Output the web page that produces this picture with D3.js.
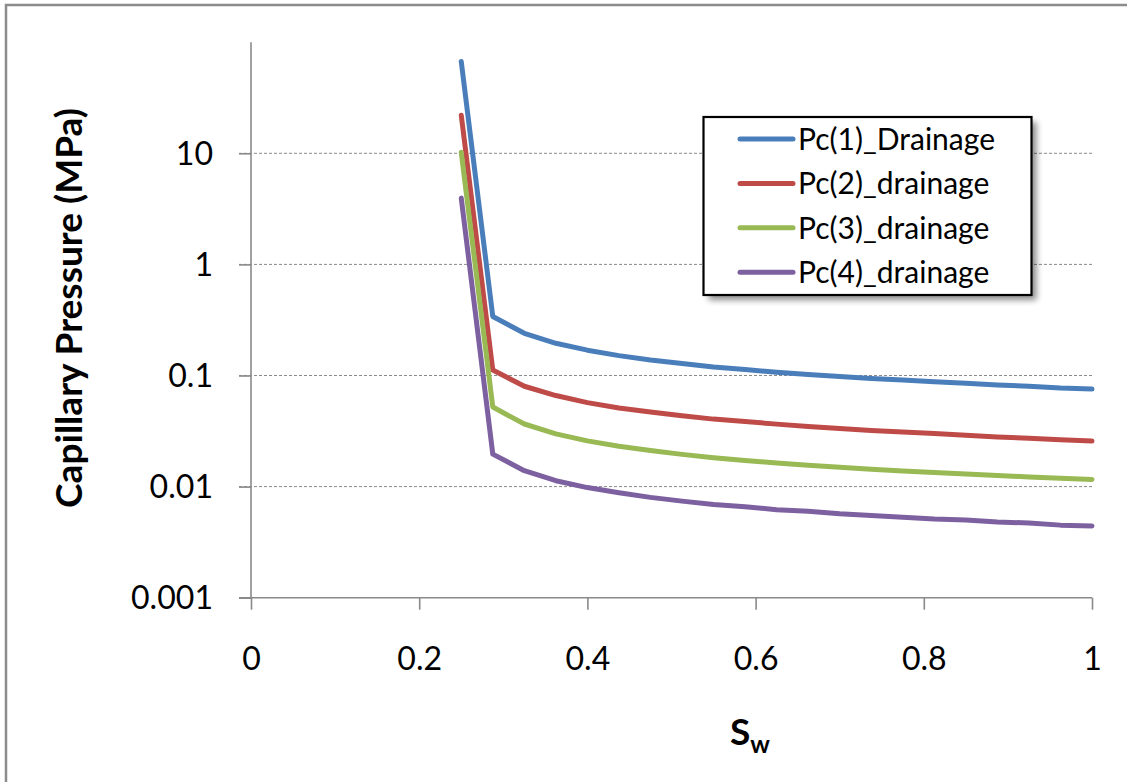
<!DOCTYPE html>
<html>
<head>
<meta charset="utf-8">
<script src="https://cdn.jsdelivr.net/npm/d3@7"></script>
<style>
  html, body { margin: 0; padding: 0; background: #fff; }
  svg { display: block; }
  text { font-family: Lato, "Open Sans", sans-serif; fill: #000; }
</style>
</head>
<body>
<svg id="chart" width="1127" height="782"></svg>
<script>
// ---- data ----
const sw = [0.25, 0.2875, 0.325, 0.3625, 0.4, 0.4375, 0.475, 0.5125, 0.55, 0.5875, 0.625,
            0.6625, 0.7, 0.7375, 0.775, 0.8125, 0.85, 0.8875, 0.925, 0.9625, 1.0];
const pc1 = [67, 0.34, 0.24, 0.195, 0.169, 0.151, 0.138, 0.128, 0.119, 0.113, 0.107,
             0.102, 0.098, 0.094, 0.091, 0.088, 0.085, 0.082, 0.080, 0.077, 0.0755];
const pc2 = [22, 0.112, 0.080, 0.066, 0.057, 0.051, 0.047, 0.0435, 0.0405, 0.0385, 0.0365,
             0.0348, 0.0333, 0.032, 0.031, 0.030, 0.029, 0.028, 0.0272, 0.0264, 0.0257];
const pc3 = [10.2, 0.052, 0.0366, 0.0298, 0.0258, 0.0231, 0.0211, 0.0195, 0.0182, 0.0172, 0.0163,
             0.0156, 0.0149, 0.0143, 0.0138, 0.0134, 0.0130, 0.0126, 0.0122, 0.0119, 0.0116];
const pc4 = [3.95, 0.0196, 0.0139, 0.0113, 0.0098, 0.0088, 0.0080, 0.0074, 0.0069, 0.0066, 0.0062,
             0.0060, 0.0057, 0.0055, 0.0053, 0.0051, 0.0050, 0.0048, 0.0047, 0.0045, 0.00443];
const seriesNames = ["Pc(1)_Drainage", "Pc(2)_drainage", "Pc(3)_drainage", "Pc(4)_drainage"];
const seriesColors = ["#4A7EBB", "#BE4B48", "#98B954", "#7D60A0"];
const xTicks = [0, 0.2, 0.4, 0.6, 0.8, 1];
const xTickLabels = ["0", "0.2", "0.4", "0.6", "0.8", "1"];
const yTicks = [0.001, 0.01, 0.1, 1, 10];
const yTickLabels = ["0.001", "0.01", "0.1", "1", "10"];
const yTitle = "Capillary Pressure (MPa)";

const allSeries = [pc1, pc2, pc3, pc4].map((vals, i) => ({
  name: seriesNames[i], color: seriesColors[i],
  points: sw.map((s, j) => [s, vals[j]])
}));

// ---- layout ----
const svg = d3.select("#chart");
const pLeft = 251, pRight = 1092, pTop = 42.2, pBottom = 597.7;
const x = d3.scaleLinear().domain([0, 1]).range([pLeft, pRight]);
const y = d3.scaleLog().domain([0.001, 100]).range([pBottom, pTop]);

function fit(sel, target) {
  const node = sel.node();
  const f = parseFloat(sel.attr("font-size"));
  const w = node.getComputedTextLength();
  sel.attr("font-size", (f * target / w).toFixed(2));
}

// outer border (only top & left visible in the crop)
svg.append("path")
  .attr("d", "M6,790 L6,5 L1140,5")
  .attr("fill", "none").attr("stroke", "#8c8c8c").attr("stroke-width", 2.5);

// gridlines
svg.append("g").selectAll("line").data(yTicks.filter(v => v > 0.001)).join("line")
  .attr("x1", pLeft - 12).attr("x2", pRight)
  .attr("y1", d => y(d)).attr("y2", d => y(d))
  .attr("stroke", "#8a8a8a").attr("stroke-width", 1)
  .attr("stroke-dasharray", "3,2");

// axes
const axisColor = "#8a8a8a";
const yAxis = d3.axisLeft(y).tickValues(yTicks).tickFormat((d, i) => yTickLabels[i])
  .tickSizeInner(12).tickSizeOuter(0).tickPadding(26);
const gy = svg.append("g").attr("transform", `translate(${pLeft},0)`).call(yAxis);
const xAxis = d3.axisBottom(x).tickValues(xTicks).tickFormat((d, i) => xTickLabels[i])
  .tickSizeInner(12).tickSizeOuter(0).tickPadding(37);
const gx = svg.append("g").attr("transform", `translate(0,${pBottom})`).call(xAxis);
[gx, gy].forEach(g => {
  g.select(".domain").attr("stroke", axisColor).attr("stroke-width", 1.6);
  g.selectAll(".tick line").attr("stroke", axisColor).attr("stroke-width", 1.6);
  g.selectAll(".tick text").attr("font-family", "Lato, 'Open Sans', sans-serif")
    .attr("font-size", 31).attr("fill", "#000");
});
// size tick labels so "0.001" matches the reference width
const firstY = gy.selectAll(".tick text").filter((d, i) => i === 0);
fit(firstY, 82);
const tickSize = firstY.attr("font-size");
gx.selectAll(".tick text").attr("font-size", tickSize);
gy.selectAll(".tick text").attr("font-size", tickSize);
gy.select(".domain").attr("d", `M0,${pTop}V${pBottom}`);
gx.select(".domain").attr("d", `M${pLeft - 12},0H${pRight}`);
gy.selectAll(".tick text").attr("dy", "0.34em");
gx.selectAll(".tick text").attr("dy", "0.72em");

// series
const line = d3.line().x(d => x(d[0])).y(d => y(d[1]));
svg.append("g").selectAll("path").data(allSeries).join("path")
  .attr("d", d => line(d.points))
  .attr("fill", "none").attr("stroke", d => d.color)
  .attr("stroke-width", 5).attr("stroke-linejoin", "round").attr("stroke-linecap", "round");

// y title
const yt = svg.append("text")
  .attr("transform", "translate(82,308) rotate(-90)")
  .attr("text-anchor", "middle").attr("font-weight", "bold").attr("font-size", 33)
  .text(yTitle);
fit(yt, 400);
const titleSize = parseFloat(yt.attr("font-size"));

// x title S_w
const xt = svg.append("text")
  .attr("x", 750).attr("y", 745).attr("text-anchor", "middle")
  .attr("font-weight", "bold").attr("font-size", titleSize);
xt.append("tspan").text("S");
xt.append("tspan").attr("font-size", titleSize * 0.66).attr("dy", 8).text("w");

// legend
const defs = svg.append("defs");
const filt = defs.append("filter").attr("id", "shadow").attr("x", "-10%").attr("y", "-10%")
  .attr("width", "130%").attr("height", "130%");
filt.append("feGaussianBlur").attr("stdDeviation", 3);
const lx = 703.5, ly = 117, lw = 328, lh = 178;
svg.append("rect").attr("x", lx + 5).attr("y", ly + 5).attr("width", lw).attr("height", lh)
  .attr("fill", "#000").attr("opacity", 0.45).attr("filter", "url(#shadow)");
svg.append("rect").attr("x", lx).attr("y", ly).attr("width", lw).attr("height", lh)
  .attr("fill", "#fff").attr("stroke", "#000").attr("stroke-width", 2.2);
const leg = svg.append("g").selectAll("g").data(allSeries).join("g")
  .attr("transform", (d, i) => `translate(0,${139 + i * 44.4})`);
leg.append("line").attr("x1", 740).attr("x2", 793).attr("y1", 0).attr("y2", 0)
  .attr("stroke", d => d.color).attr("stroke-width", 5).attr("stroke-linecap", "round");
const legTexts = leg.append("text").attr("x", 798).attr("dy", "0.36em")
  .attr("font-size", 27).text(d => d.name);
fit(d3.select(legTexts.nodes()[0]), 197);
legTexts.attr("font-size", d3.select(legTexts.nodes()[0]).attr("font-size"));
</script>
</body>
</html>
